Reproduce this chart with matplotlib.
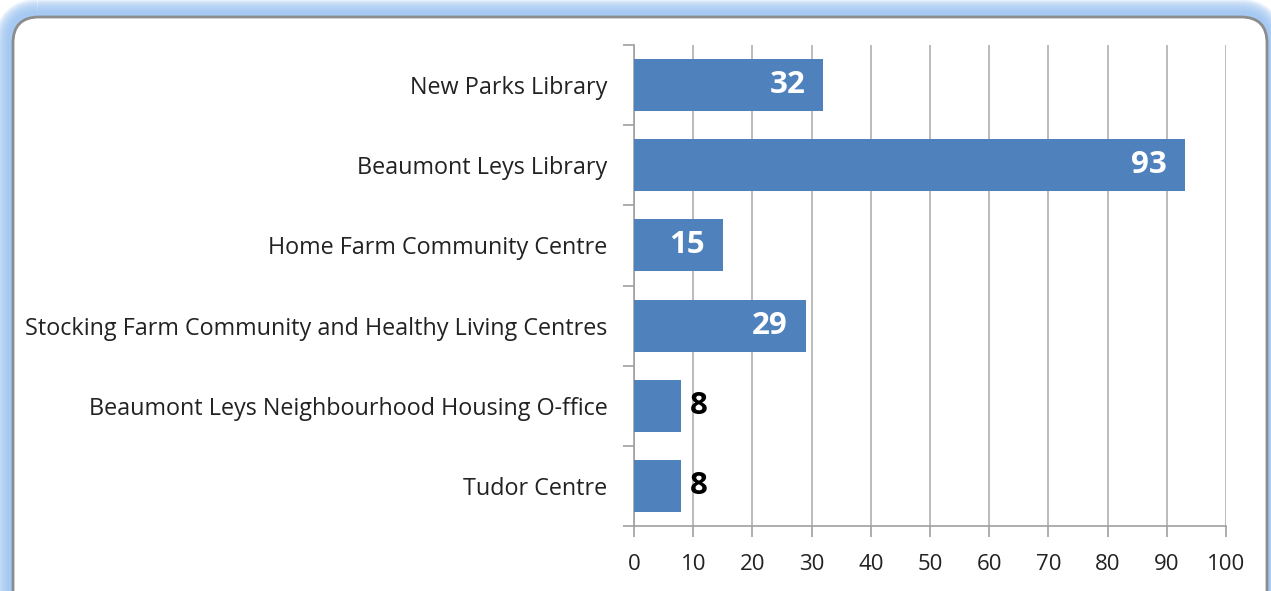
import matplotlib
matplotlib.use("Agg")
import matplotlib.pyplot as plt
from matplotlib.patches import FancyBboxPatch

# data
categories = ["New Parks Library", "Beaumont Leys Library", "Home Farm Community Centre",
              "Stocking Farm Community and Healthy Living Centres",
              "Beaumont Leys Neighbourhood Housing O-ffice", "Tudor Centre"]
values = [32, 93, 15, 29, 8, 8]
xticks = [0, 10, 20, 30, 40, 50, 60, 70, 80, 90, 100]

plt.rcParams['font.family'] = ['Open Sans', 'DejaVu Sans']

W, H = 1271, 591
fig = plt.figure(figsize=(W / 100, H / 100), dpi=100)

# background axes in pixel units for the rounded frame with blue glow
bg = fig.add_axes([0, 0, 1, 1], zorder=-5)
bg.set_xlim(0, W)
bg.set_ylim(H, 0)
bg.axis("off")
fx, fy, fw, fh = 13, 17, 1254, 700
for i in range(8):
    lw = 24 - i * 2.6
    bg.add_patch(FancyBboxPatch((fx - 1, fy - 1), fw, fh, boxstyle="round,pad=0,rounding_size=26",
                                fc="none", ec="#9cc4f2", lw=lw, alpha=0.24))
bg.add_patch(FancyBboxPatch((fx, fy), fw, fh, boxstyle="round,pad=0,rounding_size=26",
                            fc="white", ec="#8c8c8c", lw=2))

ax = fig.add_axes([634 / W, 1 - 526 / H, (1226 - 634) / W, (526 - 45) / H])
ax.set_facecolor("none")
y = list(range(len(categories)))
ax.barh(y, values, height=0.65, color="#4f81bd", zorder=3)
ax.set_ylim(len(categories) - 0.5, -0.5)
ax.set_xlim(0, 100)
ax.set_xticks(xticks)
ax.set_xticklabels([str(t) for t in xticks], fontsize=16, color="#222222")
ax.set_yticks(y)
ax.set_yticklabels(categories, fontsize=16.8, color="#222222")
ax.set_yticks([i - 0.5 for i in range(len(categories) + 1)], minor=True)
ax.tick_params(axis="y", which="major", length=0, pad=19)
ax.tick_params(axis="y", which="minor", length=8, color="#a0a0a0", width=1.2)
ax.tick_params(axis="x", length=8, color="#a0a0a0", width=1.2, pad=12)
ax.grid(axis="x", color="#b0b0b0", lw=1.2, zorder=0)
for s in ["top", "right"]:
    ax.spines[s].set_visible(False)
for s in ["left", "bottom"]:
    ax.spines[s].set_color("#a0a0a0")
    ax.spines[s].set_linewidth(1.2)

for i, v in enumerate(values):
    if v > 10:
        ax.text(v - 3.0, i, str(v), ha="right", va="center", fontsize=22.5,
                fontweight="bold", color="white", zorder=4)
    else:
        ax.text(v + 1.4, i, str(v), ha="left", va="center", fontsize=22.5,
                fontweight="bold", color="black", zorder=4)

fig.savefig("out.png", dpi=100)
